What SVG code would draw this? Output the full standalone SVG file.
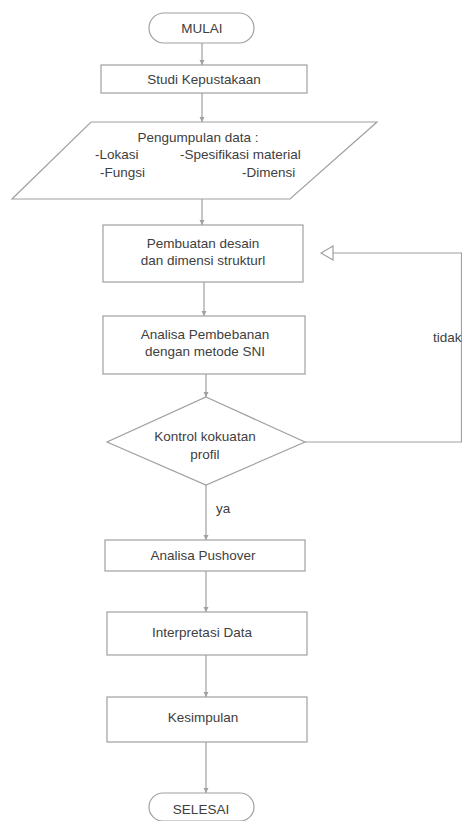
<svg xmlns="http://www.w3.org/2000/svg" width="462" height="821" viewBox="0 0 462 821">
<defs>
<style>
.s{fill:#fff;stroke:#a0a0a0;stroke-width:1.2}
.t{font-family:"Liberation Sans",Arial,sans-serif;font-size:13.5px;fill:#404040;text-anchor:middle}
.l{font-family:"Liberation Sans",Arial,sans-serif;font-size:13.5px;fill:#404040}
.c{fill:none;stroke:#a0a0a0;stroke-width:1.2}
</style>
<marker id="a" markerWidth="6" markerHeight="6" refX="5" refY="3" orient="auto" markerUnits="userSpaceOnUse">
<path d="M0,0.5 L5,3 L0,5.5 Z" fill="#a0a0a0"/>
</marker>
<marker id="o" markerWidth="14" markerHeight="16" refX="13" refY="8" orient="auto" markerUnits="userSpaceOnUse">
<path d="M13,8 L1,1 L1,15 Z" fill="#fff" stroke="#a0a0a0" stroke-width="1.2"/>
</marker>
</defs>
<rect width="462" height="821" fill="#fff"/>
<g id="connectors">
<line class="c" x1="202" y1="43" x2="202" y2="65" marker-end="url(#a)"/>
<line class="c" x1="202" y1="93" x2="202" y2="122" marker-end="url(#a)"/>
<line class="c" x1="202" y1="199" x2="202" y2="225" marker-end="url(#a)"/>
<line class="c" x1="204" y1="282" x2="204" y2="316" marker-end="url(#a)"/>
<line class="c" x1="206" y1="374" x2="206" y2="397" marker-end="url(#a)"/>
<line class="c" x1="206" y1="485" x2="206" y2="540" marker-end="url(#a)"/>
<line class="c" x1="206" y1="571" x2="206" y2="612" marker-end="url(#a)"/>
<line class="c" x1="206" y1="655" x2="206" y2="697" marker-end="url(#a)"/>
<line class="c" x1="206" y1="742" x2="206" y2="793" marker-end="url(#a)"/>
<polyline class="c" points="305,442 461.5,442 461.5,253 334,253"/>
<line class="c" x1="334" y1="253" x2="321" y2="253" marker-end="url(#o)"/>
<text class="l" x="216" y="513">ya</text>
<text class="l" x="433" y="342">tidak</text>
</g>
<g id="mulai">
<rect class="s" x="149" y="13" width="105" height="30" rx="15"/>
<text class="t" x="202" y="33">MULAI</text>
</g>
<g id="studi">
<rect class="s" x="101" y="65" width="206" height="28"/>
<text class="t" x="204" y="84">Studi Kepustakaan</text>
</g>
<g id="pengumpulan">
<polygon class="s" points="91,122 377,122 290,199 12,199"/>
<text class="t" x="198" y="142">Pengumpulan data :</text>
<text class="l" x="95" y="159">-Lokasi</text>
<text class="l" x="180" y="159">-Spesifikasi material</text>
<text class="l" x="100" y="177">-Fungsi</text>
<text class="l" x="242" y="177">-Dimensi</text>
</g>
<g id="pembuatan">
<rect class="s" x="103" y="225" width="200" height="57"/>
<text class="t" x="203" y="248">Pembuatan desain</text>
<text class="t" x="203" y="265">dan dimensi strukturl</text>
</g>
<g id="analisa">
<rect class="s" x="103" y="316" width="202" height="58"/>
<text class="t" x="205" y="339">Analisa Pembebanan</text>
<text class="t" x="205" y="356">dengan metode SNI</text>
</g>
<g id="kontrol">
<polygon class="s" points="206,397 305,442 206,485 107,442"/>
<text class="t" x="205" y="441">Kontrol kokuatan</text>
<text class="t" x="205" y="459">profil</text>
</g>
<g id="pushover">
<rect class="s" x="105" y="540" width="200" height="31"/>
<text class="t" x="203" y="560">Analisa Pushover</text>
</g>
<g id="interpretasi">
<rect class="s" x="107" y="612" width="200" height="43"/>
<text class="t" x="202" y="637">Interpretasi Data</text>
</g>
<g id="kesimpulan">
<rect class="s" x="107" y="697" width="200" height="45"/>
<text class="t" x="203" y="722">Kesimpulan</text>
</g>
<g id="selesai">
<rect class="s" x="149" y="793" width="105" height="28" rx="14"/>
<text class="t" x="201" y="814">SELESAI</text>
</g>
</svg>
